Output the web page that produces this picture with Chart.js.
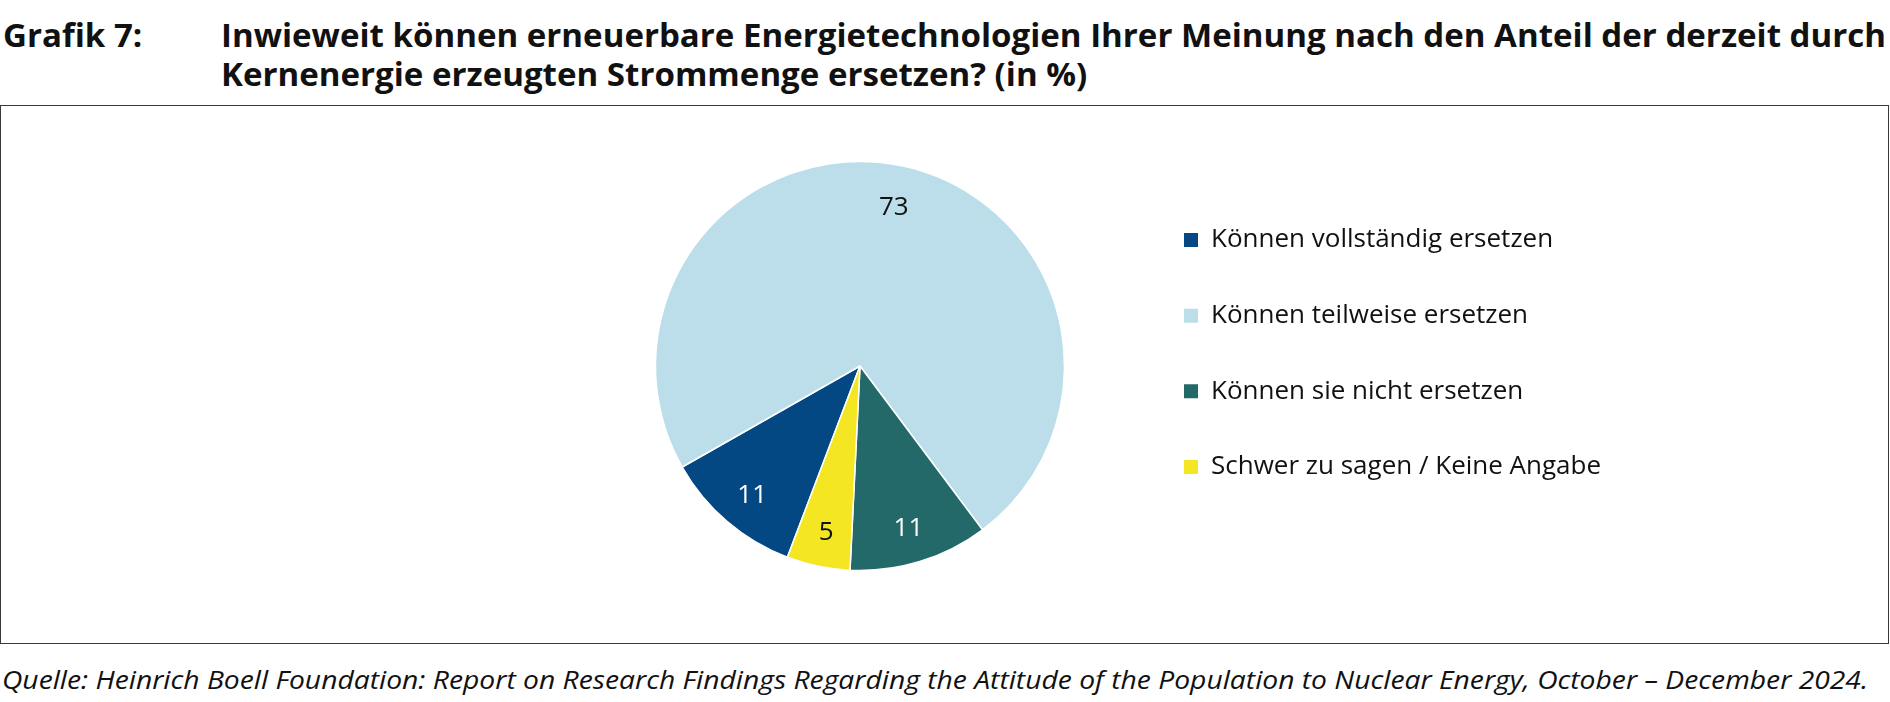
<!DOCTYPE html>
<html>
<head>
<meta charset="utf-8">
<script src="https://cdn.jsdelivr.net/npm/chart.js@4/dist/chart.umd.min.js"></script>
<style>
html,body{margin:0;padding:0;background:#fff;}
body{width:1890px;height:702px;position:relative;overflow:hidden;font-family:"Open Sans",sans-serif;color:#111;}
.t{position:absolute;font-weight:700;font-size:32px;line-height:1;white-space:nowrap;transform-origin:0 0;}
#box{position:absolute;left:0;top:105px;width:1887px;height:537px;border:1px solid #3a3a3a;}
#box canvas{position:absolute;left:0;top:0;}
#src{position:absolute;left:2px;top:667px;font-style:italic;font-size:25px;line-height:1;white-space:nowrap;transform-origin:0 0;}
</style>
</head>
<body>
<div class="t" id="g7" style="left:3px;top:19px;">Grafik 7:</div>
<div class="t" id="l1" style="left:221px;top:19px;">Inwieweit können erneuerbare Energietechnologien Ihrer Meinung nach den Anteil der derzeit durch</div>
<div class="t" id="l2" style="left:221px;top:58px;">Kernenergie erzeugten Strommenge ersetzen? (in %)</div>
<div id="box"><canvas id="c" width="1887" height="537"></canvas></div>
<div id="src">Quelle: Heinrich Boell Foundation: Report on Research Findings Regarding the Attitude of the Population to Nuclear Energy, October – December 2024.</div>
<script>
const categories = ["Können vollständig ersetzen", "Können teilweise ersetzen", "Können sie nicht ersetzen", "Schwer zu sagen / Keine Angabe"];
const values = [11, 73, 11, 5];
const sliceColors = ["#044883", "#bbdeea", "#23696a", "#f4e623"];
const valueLabelColors = ["#ffffff", "#111111", "#ffffff", "#111111"];

function fitX(el, target) {
  const w = el.getBoundingClientRect().width;
  const s = target / w;
  el.style.transform = "scaleX(" + s + ")";
  return s;
}

const valueLabels = {
  id: "valueLabels",
  afterDatasetsDraw(chart) {
    const ctx = chart.ctx;
    const meta = chart.getDatasetMeta(0);
    ctx.save();
    ctx.font = "26px 'Open Sans'";
    ctx.textAlign = "center";
    ctx.textBaseline = "middle";
    meta.data.forEach((arc, i) => {
      const p = arc.getProps(["x", "y", "startAngle", "endAngle", "outerRadius"], true);
      const a = (p.startAngle + p.endAngle) / 2;
      const r = p.outerRadius * 0.81;
      ctx.fillStyle = valueLabelColors[i];
      ctx.fillText(String(values[i]), p.x + Math.cos(a) * r, p.y + Math.sin(a) * r + 4);
    });
    ctx.restore();
  }
};

const legendWidth = {
  id: "legendWidth",
  beforeInit(chart) {
    const lg = chart.legend;
    if (!lg) return;
    const orig = lg.fit;
    lg.fit = function () { orig.call(this); this.width = 600; };
  }
};

document.fonts.ready.then(() => {
  const s = fitX(document.getElementById("l1"), 1886 - 221);
  document.getElementById("l2").style.transform = "scaleX(" + s + ")";
  document.getElementById("g7").style.transform = "scaleX(" + s + ")";
  fitX(document.getElementById("src"), 1866);

  new Chart(document.getElementById("c"), {
    type: "pie",
    data: {
      labels: categories,
      datasets: [{
        data: values,
        backgroundColor: sliceColors,
        borderColor: "#ffffff",
        borderWidth: 1.5
      }]
    },
    options: {
      responsive: false,
      animation: false,
      devicePixelRatio: 1,
      rotation: 200.8,
      radius: 204.5,
      layout: { padding: { left: 584.67, right: 153.67, top: 71.33, bottom: 88.33 } },
      plugins: {
        tooltip: { enabled: false },
        legend: {
          position: "right",
          align: "start",
          labels: {
            color: "#111111",
            font: { family: "'Open Sans'", size: 26 },
            boxWidth: 14,
            boxHeight: 14,
            padding: 49.67,
            generateLabels(chart) {
              const items = Chart.overrides.pie.plugins.legend.labels.generateLabels(chart);
              items.forEach(it => { it.lineWidth = 0; it.strokeStyle = it.fillStyle; });
              return items;
            }
          }
        }
      }
    },
    plugins: [legendWidth, valueLabels]
  });
});
</script>
</body>
</html>
